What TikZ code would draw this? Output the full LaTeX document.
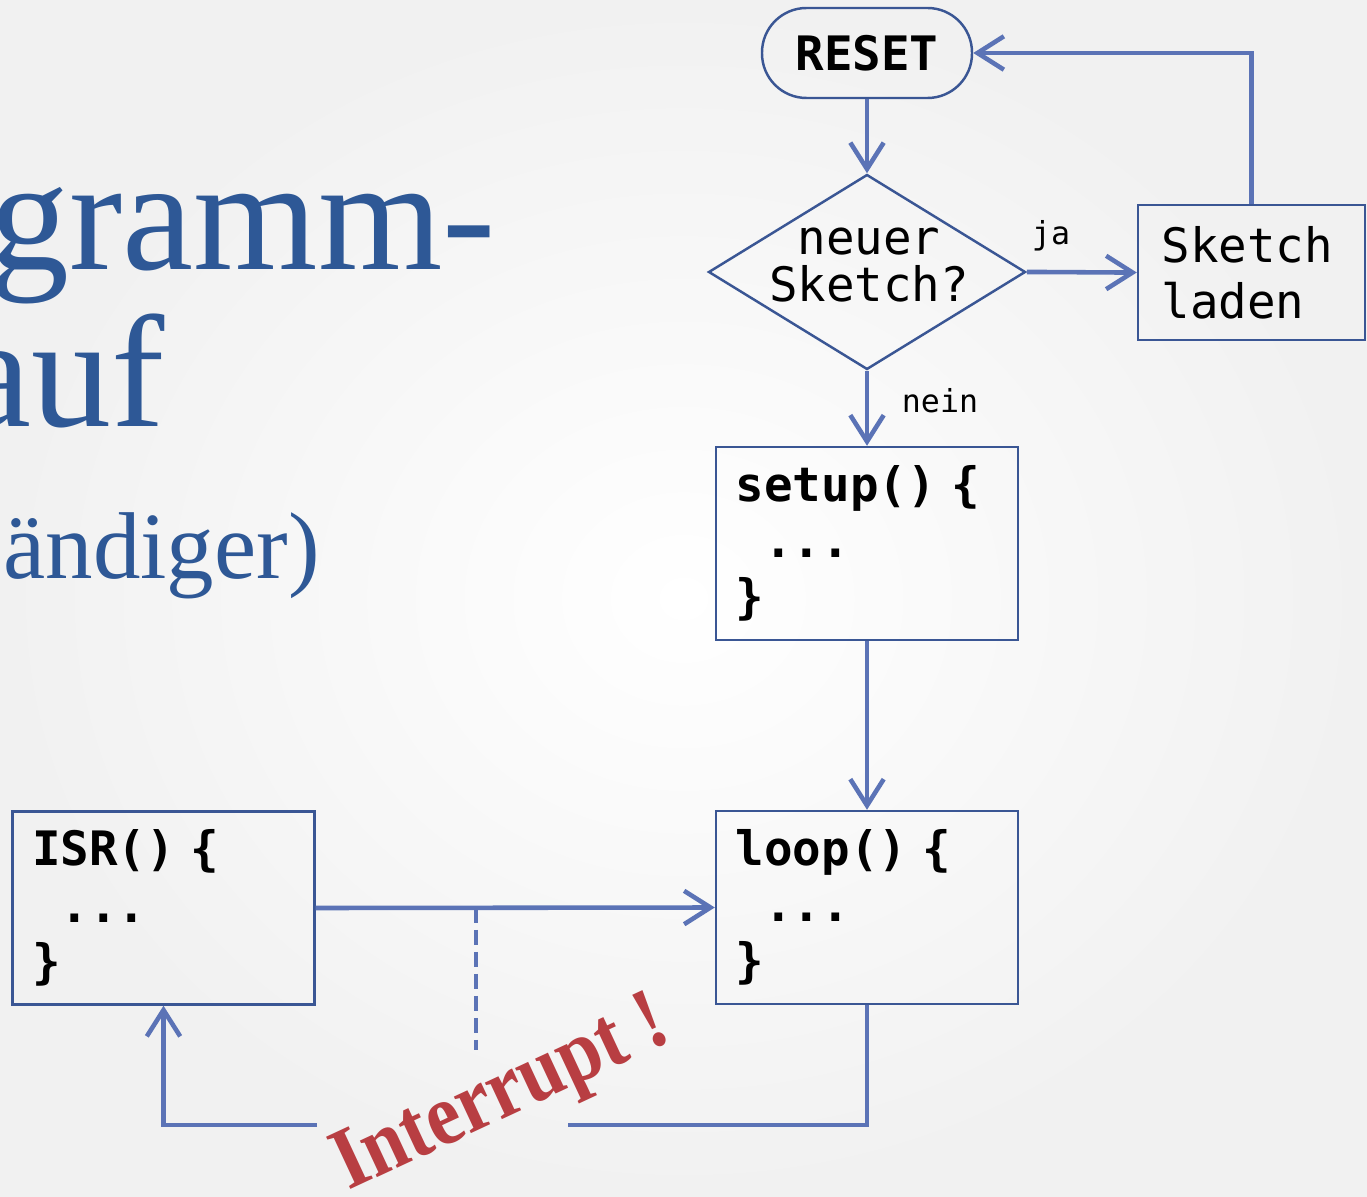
\documentclass[tikz,border=0pt]{standalone}
\usepackage{fontspec}
\setmainfont{Liberation Serif}
\setmonofont{DejaVu Sans Mono}
\usepackage{tikz}
\usepackage{xcolor}
\usetikzlibrary{shapes.geometric,arrows.meta}
\definecolor{FlowBlue}{RGB}{91,115,182}
\definecolor{BoxBlue}{RGB}{58,86,148}
\definecolor{TitleBlue}{RGB}{46,88,150}
\definecolor{AlertRed}{RGB}{184,62,66}
\newcommand{\codeFont}{\fontsize{27}{32}\selectfont\ttfamily}
\newcommand{\labelFont}{\fontsize{18}{18}\selectfont\ttfamily}
\tikzstyle{startNode}=[draw=BoxBlue,line width=1.4pt,rounded corners=0.89cm,minimum width=4.2cm,minimum height=1.8cm,font=\codeFont\bfseries]
\tikzstyle{decisionNode}=[diamond,draw=BoxBlue,line width=1.4pt,minimum width=6.34cm,minimum height=3.9cm,inner sep=0pt]
\tikzstyle{codeBlock}=[draw=BoxBlue,line width=1.4pt,minimum width=6.04cm,minimum height=3.86cm,text width=5.25cm,align=left,font=\codeFont\bfseries,inner sep=0pt]
\tikzstyle{actionBlock}=[draw=BoxBlue,line width=1.4pt,minimum width=4.54cm,minimum height=2.7cm,text width=3.6cm,align=left,font=\codeFont,inner sep=0pt]
\tikzstyle{invisNode}=[inner sep=0pt]
\tikzstyle{flowArrow}=[-{Straight Barb[length=15pt,width=19pt]}, line width=2.6pt, draw=FlowBlue]
\tikzstyle{flowLine}=[line width=2.6pt, draw=FlowBlue]
\tikzstyle{dashedLine}=[line width=2.2pt, draw=FlowBlue, dash pattern=on 8.5pt off 4pt]
\tikzstyle{titleText}=[invisNode, text=TitleBlue, anchor=base east]

\begin{document}
\begin{tikzpicture}
	\useasboundingbox (0,0) rectangle (27.34,-23.94);
	\clip (0,0) rectangle (27.34,-23.94);
	\shade[inner color=white, outer color=gray!11] (0,0) rectangle (27.34,-23.94);

    % Title (cut off)
	\node[titleText, font=\fontsize{91}{91}\selectfont] (title1) at (9.92,-5.4) {gramm-};
	\node[titleText, font=\fontsize{91}{91}\selectfont] (title2) at (3.3,-8.54) {auf};
	\node[titleText, font=\fontsize{54}{54}\selectfont] (title3) at (6.4,-11.56) {ändiger)};

    % Start and decision
	\node[startNode] (reset) at (17.34,-1.06) {RESET};
	\node[decisionNode] (dec) at (17.34,-5.44) {};
	\node[invisNode, align=center, font=\fontsize{27}{27}\selectfont\ttfamily] (decText) at (17.38,-5.3) {neuer\\Sketch?};
	\node[actionBlock] (load) at (25.03,-5.45) {Sketch\\laden};
	\draw[flowArrow] (reset) to[out=270,in=90] (dec);
	\draw[flowArrow] (dec) to[out=0,in=180] (load);
	\draw[flowArrow] (load.north) |- (reset.east);
	\node[invisNode, font=\labelFont] (ja) at (21.02,-4.72) {ja};

    % setup and loop
	\node[codeBlock] (setup) at (17.34,-10.87) {setup() \{\\\hphantom{x}...\\\}};
	\node[codeBlock] (loop) at (17.34,-18.15) {loop() \{\\\hphantom{x}...\\\}};
	\draw[flowArrow] (dec.south) to[out=270,in=90] (setup.north);
	\node[invisNode, font=\labelFont] (nein) at (18.8,-8.02) {nein};
	\draw[flowArrow] (setup) to[out=270,in=90] (loop);

    % Interrupt
	\node[codeBlock] (isr) at (3.27,-18.16) {ISR() \{\\\hphantom{x}...\\\}};
	\draw[flowArrow] (isr.east) -- (loop.west);
	\coordinate (dashTop) at (9.52,-18.16);
	\coordinate (dashEnd) at (9.52,-21.0);
	\draw[dashedLine] (dashTop) -- (dashEnd);
	\coordinate (gapR) at (11.36,-22.5);
	\coordinate (gapL) at (6.34,-22.5);
	\draw[flowLine] (loop.south) |- (gapR);
	\draw[flowArrow] (gapL) -| (isr.south);
	\node[invisNode, text=AlertRed, rotate=25, font=\fontsize{50}{50}\selectfont\bfseries] (alert) at (10.06,-21.95) {\scalebox{0.88}[1]{Interrupt !}};

\end{tikzpicture}
\end{document}
